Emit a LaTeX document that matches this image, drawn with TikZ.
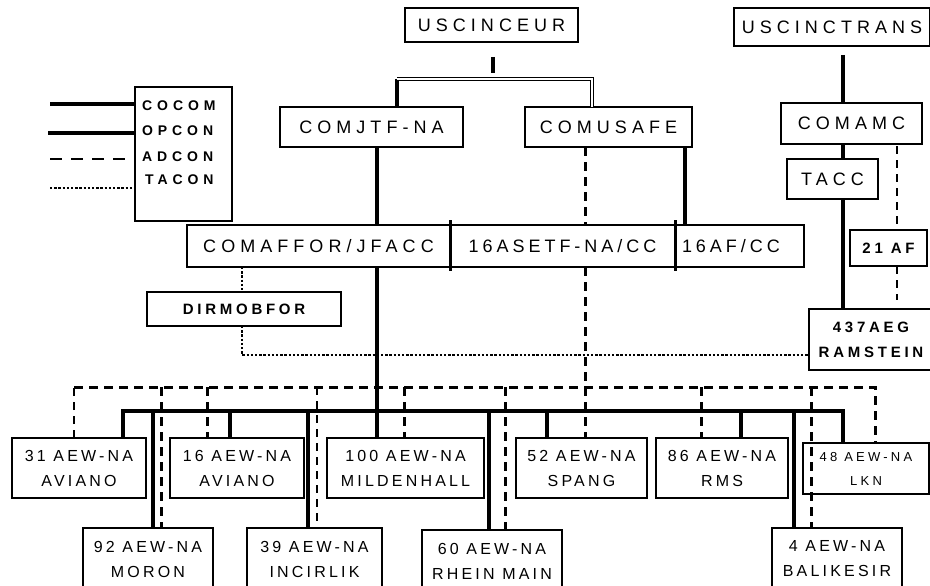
\documentclass[tikz,border=0pt]{standalone}
\usepackage{fontspec}
\setmainfont{Liberation Sans}
\newfontfamily\fbig[LetterSpace=28]{Liberation Sans}
\newfontfamily\fmid[LetterSpace=22]{Liberation Sans}
\newfontfamily\faew[LetterSpace=20]{Liberation Sans}
\newfontfamily\fsmall[LetterSpace=25]{Liberation Sans}
\newfontfamily\fleg[LetterSpace=35]{Liberation Sans}
\begin{document}
\begin{tikzpicture}[x=1pt,y=-1pt,
  box/.style={draw, line width=1.4pt, inner sep=0pt, outer sep=0pt, align=center},
  big/.style={font=\fbig\fontsize{18}{22}\selectfont},
  mid/.style={font=\fmid\fontsize{18}{22}\selectfont},
  aew/.style={font=\faew\fontsize{16}{25}\selectfont},
  aewsm/.style={font=\fsmall\fontsize{13}{24}\selectfont},
  bsm/.style={font=\fsmall\bfseries\fontsize{15}{25}\selectfont},
  legf/.style={font=\fleg\bfseries\fontsize{14}{16}\selectfont, inner sep=0pt},
  thk/.style={line width=3.2pt},
  dsh/.style={line width=3pt, dash pattern=on 9pt off 6pt},
  thindsh/.style={line width=1.6pt, dash pattern=on 8pt off 6pt},
  legdsh/.style={line width=1.8pt, dash pattern=on 12pt off 9pt},
  dotl/.style={line width=2.4pt, dash pattern=on 2.4pt off 1.8pt},
  dbl/.style={double, double distance=1.6pt, line width=0.8pt}]
\useasboundingbox (0,0) rectangle (930,586);

% legend
\node[box, minimum width=97pt, minimum height=134pt] (leg) at (183.5,154) {};
\node[legf, anchor=west] (tc1) at (142,106) {COCOM};
\node[legf, anchor=west] (tc2) at (142,131) {OPCON};
\node[legf, anchor=west] (tc3) at (142,157) {ADCON};
\node[legf, anchor=west] (tc4) at (145,180) {TACON};
\coordinate (l1) at (50,104);
\coordinate (l2) at (48,133);
\coordinate (l3) at (50,159);
\coordinate (l4) at (50,188);
\draw[thk] (l1) -- (l1 -| leg.west);
\draw[thk] (l2) -- (l2 -| leg.west);
\draw[legdsh] (l3) -- (l3 -| leg.west);
\draw[dotl] (l4) -- (l4 -| leg.west);

% top boxes
\node[box, big, minimum width=173pt, minimum height=34pt] (eur) at (491.5,25) {USCINCEUR};
\node[box, big, minimum width=196pt, minimum height=38pt] (trans) at (832,27) {USCINCTRANS};
\node[box, big, minimum width=183pt, minimum height=40pt] (comjtf) at (371.5,127) {COMJTF-NA};
\node[box, big, minimum width=167pt, minimum height=40pt] (comusafe) at (608.5,127) {COMUSAFE};
\node[box, big, minimum width=141pt, minimum height=41pt] (comamc) at (851.5,123.5) {COMAMC};
\node[box, big, minimum width=91pt, minimum height=40pt] (tacc) at (832.5,179) {TACC};
\node[box, big, minimum width=263pt, minimum height=42pt] (comaffor) at (318.5,246) {COMAFFOR/JFACC};
\node[box, mid, minimum width=225pt, minimum height=42pt] (setf) at (562.5,246) {16ASETF-NA/CC};
\node[box, mid, minimum height=42pt, text width=115pt, inner xsep=7pt, align=left] (afcc) at (739.5,246) {16AF/CC};
\node[box, bsm, minimum width=77pt, minimum height=36pt] (af21) at (888.5,248) {21 AF};
\node[box, bsm, minimum width=194pt, minimum height=34pt] (dirmob) at (244,309) {DIRMOBFOR};
\node[box, bsm, minimum width=124pt, minimum height=61pt] (aeg) at (871,339.5) {437AEG\\RAMSTEIN};

% row 1
\node[box, aew, minimum width=134pt, minimum height=60pt] (a31) at (79,468) {31 AEW-NA\\AVIANO};
\node[box, aew, minimum width=134pt, minimum height=60pt] (a16) at (237,468) {16 AEW-NA\\AVIANO};
\node[box, aew, minimum width=157pt, minimum height=60pt] (a100) at (405.5,468) {100 AEW-NA\\MILDENHALL};
\node[box, aew, minimum width=131pt, minimum height=60pt] (a52) at (581.5,468) {52 AEW-NA\\SPANG};
\node[box, aew, minimum width=132pt, minimum height=60pt] (a86) at (722,468) {86 AEW-NA\\RMS};
\node[box, aewsm, minimum width=126pt, minimum height=51pt] (a48) at (866,468.5) {48 AEW-NA\\LKN};
% row 2
\node[box, aew, minimum width=130pt, minimum height=62pt] (a92) at (148,559) {92 AEW-NA\\MORON};
\node[box, aew, minimum width=135pt, minimum height=62pt] (a39) at (314.5,559) {39 AEW-NA\\INCIRLIK};
\node[box, aew, minimum width=140pt, minimum height=62pt] (a60) at (492,561) {60 AEW-NA\\RHEIN MAIN};
\node[box, aew, minimum width=130pt, minimum height=62pt] (a4) at (837,559) {4 AEW-NA\\BALIKESIR};

% USCINCEUR connectors
\coordinate (e1) at (493,57);
\coordinate (e2) at (493,73);
\draw[thk] (e1) -- (e2);
\coordinate (jl) at (397,79);
\coordinate (jr) at (592,79);
\draw[thk] (jl) -- (comjtf.north -| jl);
\draw[dbl] (jl) -- (jr) -- (comusafe.north -| jr);

% trunk
\coordinate (xT) at (377,0);
\draw[thk] (comjtf.south -| xT) -- (comaffor.north -| xT);
\draw[thk] (comaffor.south -| xT) -- (a100.north -| xT);
% COMUSAFE
\coordinate (xU) at (585,0);
\draw[dsh] (comusafe.south -| xU) -- (setf.north -| xU);
\draw[dsh] (setf.south -| xU) -- (a52.north -| xU);
\coordinate (xV) at (685,0);
\draw[thk] (comusafe.south -| xV) -- (afcc.north -| xV);
% separators
\draw[line width=3pt] ([yshift=5pt]comaffor.north east) -- ([yshift=-4pt]comaffor.south east);
\draw[line width=3pt] ([yshift=5pt]setf.north east) -- ([yshift=-4pt]setf.south east);

% TRANS chain
\coordinate (t1) at (843,55);
\draw[thk] (t1) -- (comamc.north -| t1);
\draw[thk] (comamc.south -| t1) -- (tacc.north -| t1);
\draw[thk] (tacc.south -| t1) -- (aeg.north -| t1);
\coordinate (xA) at (897,0);
\draw[thindsh, dash phase=12pt] (comamc.south -| xA) -- (af21.north -| xA);
\coordinate (a2) at (897,300);
\draw[thindsh] (af21.south -| xA) -- (a2);

% DIRMOBFOR
\coordinate (xD) at (242,0);
\draw[dotl] (comaffor.south -| xD) -- (dirmob.north -| xD);
\coordinate (d1) at (242,355);
\draw[dotl] (dirmob.south -| xD) -- (d1) -- (aeg.west |- d1);

% buses
\coordinate (s31) at (123,411);
\coordinate (s48) at (843,411);
\draw[thk] (a31.north -| s31) -- (s31) -- (s48) -- (a48.north -| s48);
\coordinate (d31) at (74,387);
\coordinate (d48) at (875,387);
\draw[thindsh] (a31.north -| d31) -- (d31);
\draw[dsh] (d31) -- (d48) -- (a48.north -| d48);

\foreach \x/\n in {153/a92, 230/a16, 308/a39, 489/a60, 547/a52, 741/a86, 794/a4}{
  \coordinate (tmp) at (\x,411);
  \draw[thk] (tmp) -- (\n.north -| tmp);
}
\foreach \x/\n in {161/a92, 207/a16, 404/a100, 505/a60, 701/a86, 811/a4}{
  \coordinate (tmp) at (\x,387);
  \draw[dsh] (tmp) -- (\n.north -| tmp);
}
\coordinate (d39) at (317,387);
\draw[thindsh] (d39) -- (a39.north -| d39);
\end{tikzpicture}
\end{document}
